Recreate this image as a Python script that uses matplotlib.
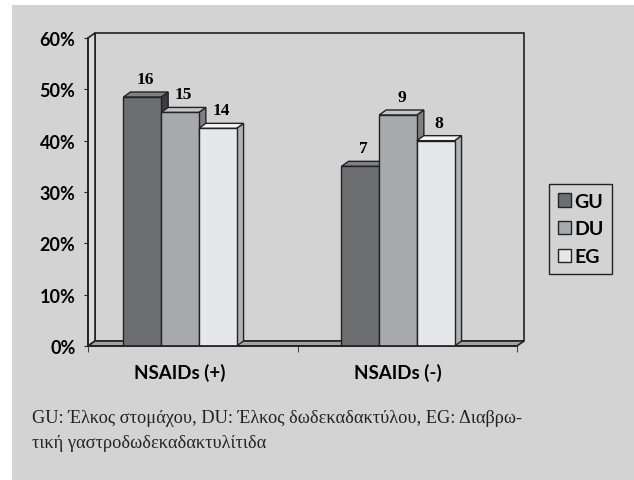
import numpy as np
import matplotlib.pyplot as plt
from matplotlib.patches import Polygon, Rectangle, Patch

# data
categories = ['NSAIDs (+)', 'NSAIDs (-)']
series = ['GU', 'DU', 'EG']
percent = {'GU': [48.5, 35.0], 'DU': [45.5, 45.0], 'EG': [42.4, 40.0]}
counts = {'GU': [16, 7], 'DU': [15, 9], 'EG': [14, 8]}
caption_lines = ['GU: Έλκος στομάχου, DU: Έλκος δωδεκαδακτύλου, EG: Διαβρω-',
                 'τική γαστροδωδεκαδακτυλίτιδα']

front_col = {'GU': '#6d6e70', 'DU': '#a8a9ab', 'EG': '#e6e7e8'}
top_col = {'GU': '#808082', 'DU': '#c4c5c7', 'EG': '#f6f6f6'}
side_col = {'GU': '#3c3c3e', 'DU': '#808082', 'EG': '#b2b3b5'}
bg = '#d3d3d3'

W, H = 634, 481
fig = plt.figure(figsize=(W / 100, H / 100), dpi=100)
fig.patch.set_facecolor('white')
fig.patches.append(Rectangle((12 / W, 0), 1, 1 - 6 / H, transform=fig.transFigure,
                             facecolor=bg, edgecolor='none', zorder=-5))

# axes in pixel box: x 88..524, y 34..347
ax = fig.add_axes([88 / W, 1 - 347 / H, (524 - 88) / W, (347 - 34) / H])
ax.set_facecolor('none')
ax.set_zorder(3)

px_x = 218.0          # pixels per category unit
px_y = 51.33 / 10     # pixels per percent
dx = 7 / px_x
dy = 5 / px_y
xmin = (88 - 180) / px_x
xmax = (524 - 180) / px_x
ymax = 60 + dy
ax.set_xlim(xmin, xmax)
ax.set_ylim(0, ymax)

# walls and floor
ax.add_patch(Rectangle((xmin + dx, dy), xmax - xmin - dx, ymax - dy,
                       facecolor=bg, edgecolor='#222222', lw=1.2, zorder=1, clip_on=False))
ax.add_patch(Polygon([(xmin, 0), (xmin + dx, dy), (xmin + dx, ymax), (xmin, 60)],
                     facecolor='#dcdcdc', edgecolor='#222222', lw=1.2, zorder=1, clip_on=False))
ax.add_patch(Polygon([(xmin, 0), (xmax - dx, 0), (xmax, dy), (xmin + dx, dy)],
                     facecolor='#a2a2a2', edgecolor='#222222', lw=1.2, zorder=1, clip_on=False))

bw = 37.7 / px_x
x = np.arange(len(categories))
for i, s in enumerate(series):
    lefts = x + (i - 1.5) * bw
    vals = percent[s]
    for j in range(len(categories)):
        l, v = lefts[j], vals[j]
        z = 2 + i
        ax.add_patch(Polygon([(l + bw, 0), (l + bw + dx, dy), (l + bw + dx, v + dy), (l + bw, v)],
                             facecolor=side_col[s], edgecolor='#222222', lw=1.0, zorder=z))
        ax.add_patch(Polygon([(l, v), (l + dx, v + dy), (l + bw + dx, v + dy), (l + bw, v)],
                             facecolor=top_col[s], edgecolor='#222222', lw=1.0, zorder=z))
        ax.text(l + bw / 2 + dx / 2, v + dy + 5 / px_y, str(counts[s][j]),
                ha='center', va='bottom', fontsize=12.5, fontweight='bold',
                family='Liberation Serif', zorder=6)
    ax.bar(lefts, vals, width=bw, align='edge', color=front_col[s],
           edgecolor='#222222', linewidth=1.0, zorder=2 + i)

for sp in ['top', 'right']:
    ax.spines[sp].set_visible(False)
ax.spines['left'].set_bounds(0, 60)
ax.spines['bottom'].set_bounds(xmin, xmax - dx)
for sp in ['left', 'bottom']:
    ax.spines[sp].set_color('#222222')
    ax.spines[sp].set_linewidth(1.2)
    ax.spines[sp].set_zorder(7)

ax.set_yticks(range(0, 61, 10))
ax.set_yticklabels([f'{t}%' for t in range(0, 61, 10)], fontsize=13,
                   fontweight='bold', family='Lato')
ax.tick_params(axis='y', length=3, pad=6, color='#222222')
ax.set_xticks(x)
ax.set_xticklabels(categories, fontsize=13.5, fontweight='bold', family='Lato')
ax.tick_params(axis='x', length=0, pad=12)
ax.set_xticks([xmin, (298 - 180) / px_x, xmax - dx], minor=True)
ax.tick_params(axis='x', which='minor', length=4, color='#222222')

handles = [Patch(facecolor=front_col[s], edgecolor='#222222', lw=1.0) for s in series]
leg = fig.legend(handles, series, loc='upper left', bbox_to_anchor=(549 / W, 1 - 185 / H),
                 prop={'family': 'Lato', 'weight': 'bold', 'size': 14},
                 frameon=True, fancybox=False, edgecolor='#222222', facecolor=bg,
                 framealpha=1, handlelength=0.7, handleheight=0.7, handletextpad=0.15,
                 labelspacing=0.55, borderpad=0.45, borderaxespad=0)
leg.get_frame().set_linewidth(1.0)

fig.text(32 / W, 1 - 423 / H, caption_lines[0], fontsize=13.2, family='Liberation Serif',
         va='baseline', ha='left', color='#222222')
fig.text(32 / W, 1 - 448 / H, caption_lines[1], fontsize=13.2, family='Liberation Serif',
         va='baseline', ha='left', color='#222222')

fig.savefig('out.png', dpi=100, facecolor=fig.get_facecolor())
